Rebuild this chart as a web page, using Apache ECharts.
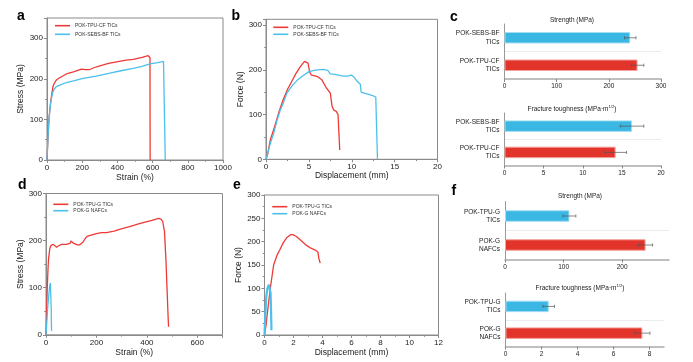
<!DOCTYPE html>
<html><head><meta charset="utf-8">
<script src="https://cdn.jsdelivr.net/npm/echarts@6/dist/echarts.min.js"></script>
<style>html,body{margin:0;padding:0;background:#fff}#c{width:693px;height:362px}</style>
</head><body><div id="c"></div>
<script>
// ---------- Panel a: stress-strain ----------
const aTpuStrain = [0, 5, 11, 20, 28, 34, 40, 53, 70, 90, 110, 150, 196, 220, 243, 270, 300, 350, 395, 450, 490, 540, 575, 582, 585, 586];
const aTpuStress = [0, 50, 100, 140, 165, 181, 188, 197, 202, 207, 212, 217, 224, 223, 223, 228, 232, 238, 242, 246, 248, 253, 257, 257, 252, 0];
const aSebsStrain = [0, 5, 11, 20, 28, 34, 40, 53, 80, 110, 150, 205, 280, 357, 420, 490, 540, 585, 630, 662, 670, 672];
const aSebsStress = [0, 50, 100, 138, 158, 168, 174, 181, 186, 191, 195, 201, 207, 214, 220, 226, 231, 237, 240, 243, 243, 0];
// ---------- Panel b: force-displacement ----------
const bTpuDisp = [0, 0.2, 0.5, 1, 1.5, 2, 2.5, 3, 3.5, 4, 4.5, 4.7, 4.9, 5.1, 5.3, 5.6, 6, 6.5, 7, 7.5, 7.7, 7.9, 8.2, 8.4, 8.5, 8.6];
const bTpuForce = [0, 12, 43, 73, 105, 133, 156, 174, 192, 207, 219, 221, 215, 195, 188, 187, 185, 178, 161, 148, 119, 110, 107, 100, 60, 21];
const bSebsDisp = [0, 0.15, 0.3, 0.5, 0.9, 1.3, 1.67, 2.0, 2.44, 3.0, 3.6, 4.2, 5, 5.5, 6, 6.7, 7.2, 7.5, 8, 8.5, 9, 9.5, 10, 10.3, 10.6, 11, 11.1, 11.3, 11.6, 12, 12.5, 12.8, 12.9, 13.0];
const bSebsForce = [0, 10, 13, 35, 58, 88, 110, 125, 148, 163, 176, 185, 196, 198, 200, 201, 199, 191, 190, 188, 186, 186, 188, 183, 175, 168, 150, 148, 147, 145, 142, 139, 136, 0];
// ---------- Panel c: bars ----------
const cCats = ['POK-TPU-CF\nTICs', 'POK-SEBS-BF\nTICs'];
const cStrength = [255, 241];
const cStrengthErr = [12, 11];
const cTough = [14.2, 16.3];
const cToughErr = [1.4, 1.5];
// ---------- Panel d ----------
const dTpuStrain = [0, 3, 5, 8, 10, 15, 20, 29, 35, 42, 50, 62, 80, 95, 99, 103, 110, 125, 134, 147, 155, 163, 175, 200, 220, 240, 270, 292, 320, 345, 370, 397, 420, 447, 457, 463, 470, 476, 480, 484, 486];
const dTpuStress = [0, 60, 100, 140, 160, 183, 190, 192, 188, 186, 189, 192, 192, 194, 199, 196, 194, 191, 191, 197, 204, 209, 211, 215, 217, 217, 220, 224, 228, 232, 236, 240, 243, 247, 245, 240, 219, 155, 98, 42, 17];
const dGStrain = [0, 3, 7, 11, 15, 17.5, 19, 20.5, 22];
const dGStress = [0, 25, 59, 84, 105, 110, 106, 60, 8];
// ---------- Panel e ----------
const eTpuDisp = [0, 0.1, 0.21, 0.4, 0.63, 0.85, 1.05, 1.3, 1.55, 1.8, 1.95, 2.2, 2.5, 2.9, 3.2, 3.5, 3.68, 3.75, 3.84];
const eTpuForce = [0, 20, 50, 100, 150, 170, 182, 198, 209, 215, 215, 211, 203, 192, 186, 182, 178, 164, 154];
const eGDisp = [0, 0.05, 0.12, 0.2, 0.3, 0.36, 0.42, 0.46, 0.48];
const eGForce = [0, 40, 81, 100, 108, 110, 90, 40, 10];
// ---------- Panel f: bars ----------
const fCats = ['POK-G\nNAFCs', 'POK-TPU-G\nTICs'];
const fStrength = [240, 110];
const fStrengthErr = [12, 11];
const fTough = [7.6, 2.4];
const fToughErr = [0.42, 0.32];

const FONT = 'Liberation Sans';
const AX = '#8a8a8a';
const RED = '#ee3a36', BLUE = '#4bc0ec';
const BRED = '#e3342b', BBLUE = '#3bb7e4';
const pairs = (xs, ys) => xs.map((x, i) => [x, ys[i]]);
const plain = v => String(v);

function valAxis(gi, o) {
  return {
    gridIndex: gi, type: 'value', min: 0, max: o.max, interval: o.interval,
    axisLine: {show: true, onZero: false, lineStyle: {color: AX, width: 1}},
    axisTick: {show: true, length: 3, lineStyle: {color: AX}},
    minorTick: {show: true, splitNumber: 2, length: 1.8, lineStyle: {color: AX}},
    splitLine: {show: false}, minorSplitLine: {show: false},
    axisLabel: {fontSize: 8, color: '#222', margin: o.lm || 4, showMaxLabel: o.smx, fontFamily: FONT, formatter: plain},
    name: o.name, nameLocation: 'middle', nameGap: o.gap,
    nameTextStyle: {fontSize: 8.5, color: '#222', fontFamily: FONT}
  };
}
function barX(gi, max, interval, vals) {
  return {
    gridIndex: gi, type: 'value', min: 0, max: max, interval: interval,
    axisLine: {show: true, onZero: false, lineStyle: {color: '#aaa', width: 1.5}},
    axisTick: {show: true, length: 3, lineStyle: {color: '#888'}, customValues: vals},
    splitLine: {show: false},
    axisLabel: {fontSize: 6.5, color: '#222', margin: 4, fontFamily: FONT, customValues: vals, formatter: plain}
  };
}
function barY(gi, cats) {
  return {
    gridIndex: gi, type: 'category', data: cats,
    axisLine: {show: true, lineStyle: {color: '#999', width: 1}},
    axisTick: {show: false},
    splitLine: {show: true, lineStyle: {color: ['rgba(0,0,0,0)', '#ececec', 'rgba(0,0,0,0)'], width: 1}},
    axisLabel: {fontSize: 6.5, color: '#222', margin: 5, lineHeight: 8.3, fontFamily: FONT}
  };
}
function lineS(name, xi, data, color, w) {
  return {type: 'line', name: name, xAxisIndex: xi, yAxisIndex: xi, data: data, symbol: 'none', showSymbol: false,
    lineStyle: {color: color, width: w || 1.3}, itemStyle: {color: color}, animation: false, clip: true};
}
function barS(gi, vals) {
  return {type: 'bar', xAxisIndex: gi, yAxisIndex: gi, barWidth: 11.5, animation: false,
    data: vals.map((v, i) => ({value: v, itemStyle: {color: i === 0 ? BRED : BBLUE, borderColor: i === 0 ? '#f2a19c' : '#a6def3', borderWidth: 1}}))};
}
function errS(gi, vals, errs) {
  return {type: 'custom', xAxisIndex: gi, yAxisIndex: gi, z: 5, animation: false,
    data: vals.map((v, i) => [v, i, errs[i]]),
    encode: {x: 0, y: 1},
    renderItem: function (params, api) {
      const v = api.value(0), c = api.value(1), e = api.value(2);
      const p1 = api.coord([v - e, c]), p2 = api.coord([v + e, c]);
      const h = 1.6, st = {stroke: '#555', lineWidth: 0.7};
      return {type: 'group', children: [
        {type: 'line', shape: {x1: p1[0], y1: p1[1], x2: p2[0], y2: p2[1]}, style: st},
        {type: 'line', shape: {x1: p1[0], y1: p1[1] - h, x2: p1[0], y2: p1[1] + h}, style: st},
        {type: 'line', shape: {x1: p2[0], y1: p2[1] - h, x2: p2[0], y2: p2[1] + h}, style: st}
      ]};
    }};
}
function leg(names, left, top, gap) {
  return {data: names, left: left, top: top, orient: 'vertical', icon: 'rect', itemWidth: 15, itemHeight: 1.6,
    itemGap: gap, padding: 0, selectedMode: false,
    textStyle: {fontSize: 5, color: '#333', lineHeight: 6, fontFamily: FONT}};
}
function letter(t, x, y) {
  return {type: 'text', x: x, y: y, style: {text: t, font: 'bold 14px "Liberation Sans"', fill: '#000', verticalAlign: 'middle'}};
}
function btitle(t, x, y) {
  return {type: 'text', x: x, y: y, style: {text: t, fontSize: 6.5, fontFamily: FONT, fill: '#222', align: 'center', verticalAlign: 'middle',
    rich: {s: {fontSize: 4.2, verticalAlign: 'top', fontFamily: FONT, fill: '#222'}, n: {fontSize: 6.5, lineHeight: 8, fontFamily: FONT, fill: '#222'}}}};
}

const gridBox = {show: true, borderColor: AX, borderWidth: 1, backgroundColor: 'transparent', containLabel: false};
const option = {
  animation: false,
  textStyle: {fontFamily: FONT},
  grid: [
    Object.assign({left: 47, top: 18, width: 176, height: 142}, gridBox),
    Object.assign({left: 266, top: 19.3, width: 171.5, height: 140}, gridBox),
    {left: 504.5, top: 24, width: 156.5, height: 55},
    {left: 504.5, top: 113, width: 156.5, height: 52.5},
    Object.assign({left: 46, top: 193.5, width: 176.5, height: 141.3}, gridBox),
    Object.assign({left: 264.5, top: 195, width: 174, height: 140}, gridBox),
    {left: 505, top: 201.5, width: 164, height: 58},
    {left: 505.5, top: 293, width: 158.5, height: 53.5}
  ],
  xAxis: [
    valAxis(0, {max: 1000, interval: 200, name: 'Strain (%)', gap: 12}),
    valAxis(1, {max: 20, interval: 5, name: 'Displacement (mm)', gap: 11, lm: 3}),
    barX(2, 300, 100, [0, 100, 200, 300]),
    barX(3, 20, 5, [0, 5, 10, 15, 20]),
    valAxis(4, {max: 700, interval: 200, name: 'Strain (%)', gap: 12, smx: false}),
    valAxis(5, {max: 12, interval: 2, name: 'Displacement (mm)', gap: 12}),
    barX(6, 280, 100, [0, 100, 200]),
    barX(7, 8.8, 2, [0, 2, 4, 6, 8])
  ],
  yAxis: [
    valAxis(0, {max: 350, interval: 100, name: 'Stress (MPa)', gap: 22, smx: false}),
    valAxis(1, {max: 313, interval: 100, name: 'Force (N)', gap: 21, smx: false}),
    barY(2, cCats),
    barY(3, cCats),
    valAxis(4, {max: 300, interval: 100, name: 'Stress (MPa)', gap: 21}),
    valAxis(5, {max: 300, interval: 50, name: 'Force (N)', gap: 20}),
    barY(6, fCats),
    barY(7, fCats)
  ],
  legend: [
    leg(['POK-TPU-CF TICs', 'POK-SEBS-BF TICs'], 55, 22.7, 2.6),
    leg(['POK-TPU-CF TICs', 'POK-SEBS-BF TICs'], 273.3, 24.3, 1),
    leg(['POK-TPU-G TICs', 'POK-G NAFCs'], 53.3, 201.3, 0.4),
    leg(['POK-TPU-G TICs', 'POK-G NAFCs'], 272.3, 203.7, 1)
  ],
  series: [
    lineS('POK-TPU-CF TICs', 0, pairs(aTpuStrain, aTpuStress), RED),
    lineS('POK-SEBS-BF TICs', 0, pairs(aSebsStrain, aSebsStress), BLUE),
    lineS('POK-TPU-CF TICs', 1, pairs(bTpuDisp, bTpuForce), RED),
    lineS('POK-SEBS-BF TICs', 1, pairs(bSebsDisp, bSebsForce), BLUE),
    barS(2, cStrength), errS(2, cStrength, cStrengthErr),
    barS(3, cTough), errS(3, cTough, cToughErr),
    lineS('POK-TPU-G TICs', 4, pairs(dTpuStrain, dTpuStress), RED),
    lineS('POK-G NAFCs', 4, pairs(dGStrain, dGStress), BLUE),
    lineS('POK-TPU-G TICs', 5, pairs(eTpuDisp, eTpuForce), RED),
    lineS('POK-G NAFCs', 5, pairs(eGDisp, eGForce), BLUE, 2.2),
    barS(6, fStrength), errS(6, fStrength, fStrengthErr),
    barS(7, fTough), errS(7, fTough, fToughErr)
  ],
  graphic: [
    letter('a', 17, 15.7), letter('b', 231.5, 15.7), letter('c', 450, 16.7),
    letter('d', 18, 185), letter('e', 233, 185), letter('f', 451.5, 190.7),
    btitle('Strength (MPa)', 572, 20.7),
    btitle('{n|Fracture toughness (MPa·m}{s|1/2}{n|)}', 572, 109.3),
    btitle('Strength (MPa)', 580, 196.7),
    btitle('{n|Fracture toughness (MPa·m}{s|1/2}{n|)}', 580, 288.3)
  ]
};
const chart = echarts.init(document.getElementById('c'), null, {renderer: 'canvas'});
chart.setOption(option);
</script></body></html>
